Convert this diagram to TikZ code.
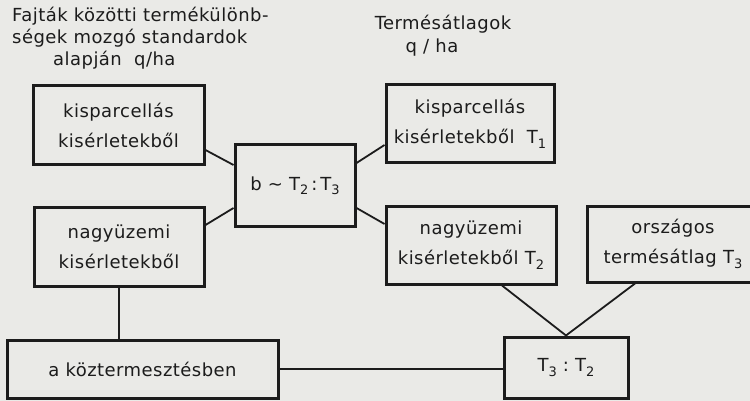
\documentclass[tikz,border=0pt]{standalone}
\usepackage{fontspec}
\setmainfont[LetterSpace=2.5]{DejaVu Sans}
\definecolor{ink}{RGB}{28,28,28}
\definecolor{paper}{RGB}{234,234,231}
\newcommand\sbs[1]{\raisebox{-0.45ex}{\fontsize{13}{13}\selectfont #1}}
\begin{document}
\begin{tikzpicture}[x=1pt,y=-1pt,
  box/.style={draw=ink, line width=3pt, inner sep=0pt, align=center,
    text=ink, font=\fontsize{18}{30}\selectfont},
  title/.style={anchor=west, inner sep=0pt, text=ink, font=\fontsize{18}{22}\selectfont},
  link/.style={draw=ink, line width=1.8pt}]
\fill[paper] (0,0) rectangle (750,401);
\useasboundingbox (0,0) rectangle (750,401);
\clip (0,0) rectangle (750,401);

% titles
\node[title] (t1a) at (12,16) {Fajták közötti termékülönb-};
\node[title] (t1b) at (12,38) {ségek mozgó standardok};
\node[title] (t1c) at (53,60) {alapján\ \ q/ha};
\node[title, anchor=center] (t2a) at (443,24) {Termésátlagok};
\node[title, anchor=center] (t2b) at (432,48) {q / ha};

% boxes
\node[box, minimum width=171pt, minimum height=79pt] (A) at (118.5,125.5) {kisparcellás\\kisérletekből};
\node[box, minimum width=120pt, minimum height=81pt] (B) at (295,185.5) {b \textasciitilde\ T\sbs{2}\,:\,T\sbs{3}};
\node[box, minimum width=170pt, minimum height=79pt] (C) at (119,246.5) {nagyüzemi\\kisérletekből};
\node[box, minimum width=168pt, minimum height=78pt] (D) at (470,124) {kisparcellás\\kisérletekből\ \ T\sbs{1}};
\node[box, minimum width=170pt, minimum height=78pt] (E) at (471,245) {nagyüzemi\\kisérletekből\ T\sbs{2}};
\node[box, minimum width=172pt, minimum height=76pt] (G) at (673,244) {országos\\termésátlag\ T\sbs{3}};
\node[box, minimum width=271pt, minimum height=58pt] (F) at (142.5,369) {a köztermesztésben};
\node[box, minimum width=124pt, minimum height=61pt] (H) at (566,367.5) {T\sbs{3}\ :\ T\sbs{2}};

% connectors
\draw[link] ([yshift=-24.5pt]A.east) -- ([yshift=20.5pt]B.west);
\draw[link] ([yshift=21.5pt]C.east) -- ([yshift=-22.5pt]B.west);
\draw[link] ([yshift=22.5pt]B.east) -- ([yshift=-21pt]D.west);
\draw[link] ([yshift=-22.5pt]B.east) -- ([yshift=21pt]E.west);
\draw[link] (C.south) -- (C.south |- F.north);
\draw[link] (F.east) -- (F.east -| H.west);
\draw[link] ([xshift=31pt]E.south) -- (H.north);
\draw[link] ([xshift=-38pt]G.south) -- (H.north);
\end{tikzpicture}
\end{document}
